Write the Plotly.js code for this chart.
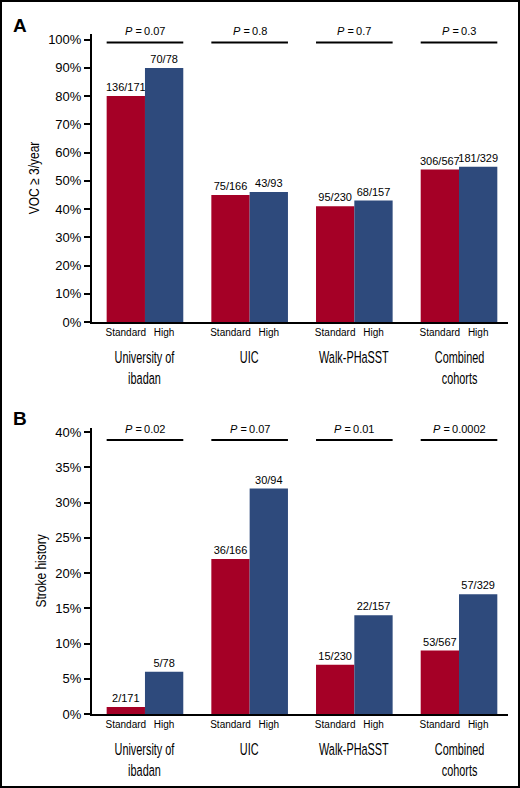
<!DOCTYPE html>
<html>
<head>
<meta charset="utf-8">
<script src="https://cdn.plot.ly/plotly-3.0.1.min.js"></script>
<style>
  body { margin: 0; background: #fff; }
  #chart { width: 516px; height: 784px; border: 2px solid #000; }
</style>
</head>
<body>
<div id="chart"></div>
<script>
// Cohorts and values (percent of patients)
const groups = ['University of<br>ibadan', 'UIC', 'Walk-PHaSST', 'Combined<br>cohorts'];
const barLabels = ['Standard', 'High'];

const vocStandard = [80, 45, 41, 54];
const vocHigh = [90, 46, 43, 55];
const vocStandardN = ['136/171', '75/166', '95/230', '306/567'];
const vocHighN = ['70/78', '43/93', '68/157', '181/329'];
const vocP = ['0.07', '0.8', '0.7', '0.3'];

const strokeStandard = [1, 22, 7, 9];
const strokeHigh = [6, 32, 14, 17];
const strokeStandardN = ['2/171', '36/166', '15/230', '53/567'];
const strokeHighN = ['5/78', '30/94', '22/157', '57/329'];
const strokeP = ['0.02', '0.07', '0.01', '0.0002'];

const RED = '#a50026';
const BLUE = '#2e4a7c';
const BAR_GAP = 0.268;
const half = (1 - BAR_GAP) / 4;   // offset of each bar centre from group centre
const idx = groups.map((g, i) => i);
const SANS = '"Liberation Sans", Arial, sans-serif';
const SQUEEZE = 0.66;  // horizontal squeeze to mimic the condensed face

function barTrace(vals, labels, color, xa, ya) {
    return {
        type: 'bar', x: idx, y: vals, text: labels,
        textposition: 'outside', cliponaxis: false, constraintext: 'none',
        textfont: { size: 11, color: '#000' },
        marker: { color: color, line: { width: 0 } },
        xaxis: xa, yaxis: ya, hoverinfo: 'skip'
    };
}

const data = [
    barTrace(vocStandard, vocStandardN, RED, 'x', 'y'),
    barTrace(vocHigh, vocHighN, BLUE, 'x', 'y'),
    barTrace(strokeStandard, strokeStandardN, RED, 'x2', 'y2'),
    barTrace(strokeHigh, strokeHighN, BLUE, 'x2', 'y2')
];

// tick positions under each bar
const tickPos = [], tickTxt = [];
idx.forEach(i => {
    tickPos.push(i - half, i + half);
    tickTxt.push(barLabels[0], barLabels[1]);
});

function xAxis(anchor) {
    return {
        anchor: anchor, domain: [0, 1], range: [-0.506, 3.468],
        showline: true, linewidth: 2, linecolor: '#000',
        showgrid: false, zeroline: false, ticks: '',
        tickvals: tickPos, ticktext: tickTxt,
        tickfont: { size: 10, color: '#000' }
    };
}
function yAxis(anchor, domain, range, dtick, title) {
    return {
        anchor: anchor, domain: domain, range: range, dtick: dtick, tick0: 0,
        ticksuffix: '%', showline: true, linewidth: 2, linecolor: '#000',
        ticks: 'outside', ticklen: 6, tickwidth: 2, tickcolor: '#000',
        showgrid: false, zeroline: false,
        tickfont: { size: 13, color: '#000' },
        title: { text: title, font: { family: SANS, size: 15, color: '#000' }, standoff: 5 }
    };
}

const annotations = [];
const shapes = [];
const squeezed = [];   // annotation indices drawn condensed
function panelExtras(xa, ya, pvals, lineY) {
    idx.forEach(i => {
        shapes.push({
            type: 'line', xref: xa, yref: ya, x0: i - 2 * half, x1: i + 2 * half,
            y0: lineY, y1: lineY, line: { color: '#000', width: 2 }
        });
        annotations.push({
            xref: xa, yref: ya, x: i, y: lineY, yanchor: 'bottom', yshift: 3,
            text: '<i>P</i> =\u2009' + pvals[i], showarrow: false,
            font: { size: 11, color: '#000' }
        });
        squeezed.push(annotations.length);
        annotations.push({
            xref: xa, yref: ya + ' domain', x: i, y: 0, yanchor: 'top', yshift: -24,
            text: groups[i], showarrow: false,
            font: { family: SANS, size: 16.5, color: '#000' }
        });
    });
}
panelExtras('x', 'y', vocP, 99);
panelExtras('x2', 'y2', strokeP, 38.9);

annotations.push({ xref: 'paper', yref: 'paper', x: -0.195, y: 1.013, xanchor: 'left', yanchor: 'middle',
    text: '<b>A</b>', showarrow: false, font: { size: 19, color: '#000' } });
annotations.push({ xref: 'paper', yref: 'paper', x: -0.195, y: 0.435, xanchor: 'left', yanchor: 'middle',
    text: '<b>B</b>', showarrow: false, font: { size: 19, color: '#000' } });

const layout = {
    width: 516, height: 784,
    margin: { l: 90, r: 10, t: 32, b: 72 },
    paper_bgcolor: '#fff', plot_bgcolor: '#fff',
    font: { family: SANS, color: '#000' },
    showlegend: false,
    barmode: 'group', bargap: BAR_GAP, bargroupgap: 0,
    xaxis: xAxis('y'),
    yaxis: yAxis('x', [0.5765, 1], [0, 102], 10, 'VOC \u2265 3/year'),
    xaxis2: xAxis('y2'),
    yaxis2: yAxis('x2', [0, 0.4206], [0, 40.6], 5, 'Stroke history'),
    annotations: annotations,
    shapes: shapes
};

// squeeze a text element along its own x direction, about its centre
function squeeze(el, s) {
    const bb = el.getBBox();
    const cx = bb.x + bb.width / 2;
    const t = el.getAttribute('transform') || '';
    el.setAttribute('transform', t + ' translate(' + cx + ',0) scale(' + s + ',1) translate(' + (-cx) + ',0)');
}

Plotly.newPlot('chart', data, layout, { displayModeBar: false, staticPlot: true }).then(gd => {
    gd.querySelectorAll('.annotation').forEach(g => {
        const k = +g.getAttribute('data-index');
        if (squeezed.includes(k)) {
            const txt = g.querySelector('text');
            if (txt) squeeze(txt, SQUEEZE);
        }
    });
    gd.querySelectorAll('.g-ytitle text, .g-y2title text').forEach(el => {
        const bb = el.getBBox();
        const cx = bb.x + bb.width / 2, cy = bb.y + bb.height / 2;
        const t = el.getAttribute('transform') || '';
        el.setAttribute('transform', t + ' translate(' + cx + ',' + cy + ') scale(0.8,1) translate(' + (-cx) + ',' + (-cy) + ')');
    });
});
</script>
</body>
</html>
